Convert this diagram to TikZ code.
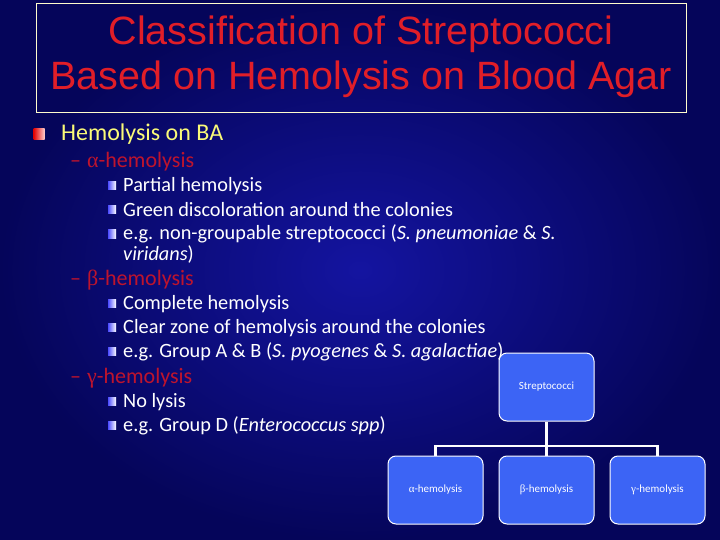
\documentclass[tikz,border=0pt]{standalone}
\usepackage{fontspec}
\setmainfont{Carlito}
\newfontfamily\titlefont{Liberation Sans}
\newfontfamily\grk{Liberation Serif}
\definecolor{bgmid}{RGB}{20,20,160}
\definecolor{bgedge}{RGB}{5,5,90}
\definecolor{ttl}{RGB}{225,30,40}
\definecolor{sub}{RGB}{190,20,45}
\definecolor{hd}{RGB}{250,250,120}
\definecolor{boxc}{RGB}{60,100,245}
\tikzset{x=1pt,y=-1pt,
 hbul/.style={left color=red!90!black,right color=white!80!red,minimum size=11pt,inner sep=0pt},
 sbul/.style={left color=blue!70,right color=white,minimum size=8pt,inner sep=0pt},
 ltxt/.style={anchor=base west,inner sep=0pt,text=white,font=\fontsize{20.3}{23}\selectfont},
 stxt/.style={anchor=base west,inner sep=0pt,text=sub,font=\fontsize{22}{26}\selectfont},
 cbox/.style={draw=white,line width=1pt,fill=boxc,rounded corners=8pt,minimum width=95pt,minimum height=68pt,text=white,font=\fontsize{11}{13}\selectfont},
 conn/.style={draw=white,line width=2.5pt}}
\begin{document}
\begin{tikzpicture}
\useasboundingbox (0,0) rectangle (720,540);
\shade[inner color=bgmid,outer color=bgedge] (0,0) rectangle (720,540);
\node[draw=white!80!yellow,line width=0.8pt,minimum width=650pt,minimum height=109pt,inner sep=0pt] (tbox) at (361,57.5) {};
\node[text=ttl,font=\titlefont\fontsize{39.5}{45}\selectfont,align=center] (title) at (361,57) {Classification of Streptococci\\Based on Hemolysis on Blood Agar};
\node[hbul] (b0) at (39,134) {};
\node[anchor=base west,inner sep=0pt,text=hd,font=\fontsize{24}{28}\selectfont] (h0) at (61,141) {Hemolysis on BA};
\node[stxt] (s1) at (70,168) {–\hspace{6pt}{\grk α}-hemolysis};
\node[sbul] (p1) at (112,186) {};
\node[ltxt] (t1) at (123,192) {Partial hemolysis};
\node[sbul] (p2) at (112,210) {};
\node[ltxt] (t2) at (123,216) {Green discoloration around the colonies};
\node[sbul] (p3) at (112,234) {};
\node[ltxt] (t3) at (123,240) {e.g. non-groupable streptococci (\textit{S. pneumoniae} \& \textit{S.}};
\node[ltxt] (t3b) at (123,260) {\textit{viridans})};
\node[stxt] (s2) at (70,285) {–\hspace{6pt}{\grk β}-hemolysis};
\node[sbul] (p4) at (112,303) {};
\node[ltxt] (t4) at (123,309) {Complete hemolysis};
\node[sbul] (p5) at (112,327) {};
\node[ltxt] (t5) at (123,333) {Clear zone of hemolysis around the colonies};
\node[sbul] (p6) at (112,351) {};
\node[ltxt] (t6) at (123,357) {e.g. Group A \& B (\textit{S. pyogenes} \& \textit{S. agalactiae})};
\node[stxt] (s3) at (70,383) {–\hspace{6pt}{\grk γ}-hemolysis};
\node[sbul] (p7) at (112,401) {};
\node[ltxt] (t7) at (123,407) {No lysis};
\node[sbul] (p8) at (112,425) {};
\node[ltxt] (t8) at (123,431) {e.g. Group D (\textit{Enterococcus spp})};
\node[cbox] (root) at (546.5,387) {Streptococci};
\node[cbox] (ca) at (435.5,490) {{\grk α}-hemolysis};
\node[cbox] (cb) at (546.5,490) {{\grk β}-hemolysis};
\node[cbox] (cg) at (657.5,490) {{\grk γ}-hemolysis};
\coordinate (j) at (546.5,446);
\draw[conn] (root.south) -- (j);
\draw[conn] (ca.north) |- (j) -| (cg.north);
\draw[conn] (j) -- (cb.north);
\end{tikzpicture}
\end{document}
